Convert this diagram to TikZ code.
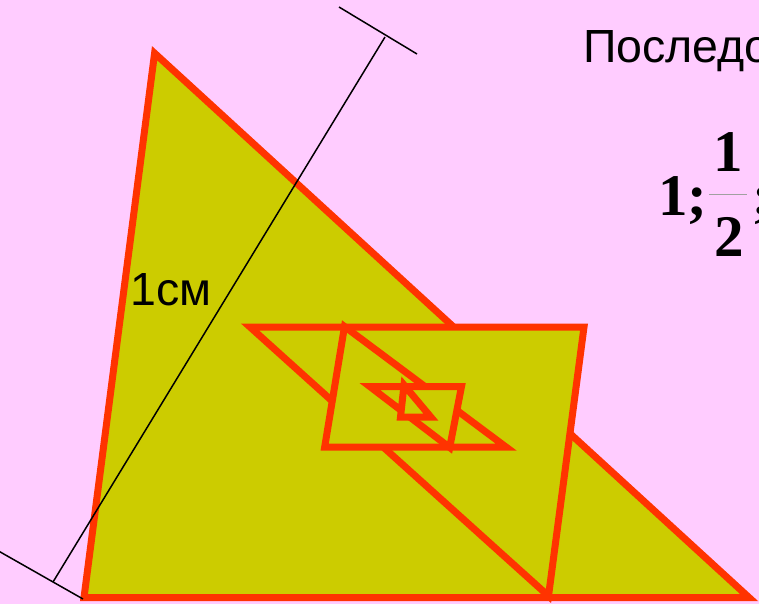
\documentclass[tikz,border=0pt]{standalone}
\usepackage{fontspec}
\setmainfont{Liberation Sans}
\newfontfamily\timesf{Liberation Serif}
\definecolor{bgpink}{HTML}{FFCCFF}
\definecolor{triyellow}{HTML}{CCCC00}
\definecolor{trired}{HTML}{FF3300}
\definecolor{bargray}{HTML}{A0A0A0}
\begin{document}
\begin{tikzpicture}[x=1pt,y=-1pt,
  tri/.style={fill=triyellow,draw=trired,line width=7pt,line join=miter},
  dimline/.style={draw=black,line width=1.5pt},
  lbl/.style={inner sep=0pt,anchor=base west,font=\fontsize{46.5}{50}\selectfont},
  fracnum/.style={inner sep=0pt,anchor=base west,font=\timesf\bfseries\fontsize{59}{60}\selectfont}]
\useasboundingbox (0,0) rectangle (759,604);
\fill[bgpink] (0,0) rectangle (759,604);
\clip (0,0) rectangle (759,604);
% vertices
\coordinate (A1) at (154.6,53.2);
\coordinate (B1) at (84,597.5);
\coordinate (C1) at (749,597.5);
\coordinate (A2) at (548.5,596);
\coordinate (B2) at (584,327);
\coordinate (C2) at (250,327);
\coordinate (A3) at (344.5,326.5);
\coordinate (B3) at (324.7,447);
\coordinate (C3) at (506,447);
\coordinate (A4) at (449.7,447.5);
\coordinate (B4) at (461.5,386.5);
\coordinate (C4) at (369.8,386.5);
\coordinate (A5) at (404,385);
\coordinate (B5) at (400.5,417);
\coordinate (C5) at (430.8,417);
% triangles
\draw[tri] (A1) -- (B1) -- (C1) -- cycle;
\draw[tri] (A2) -- (B2) -- (C2) -- cycle;
\draw[tri] (A3) -- (B3) -- (C3) -- cycle;
\draw[tri] (A4) -- (B4) -- (C4) -- cycle;
\draw[tri] (A5) -- (B5) -- (C5) -- cycle;
% dimension line
\coordinate (dimT) at (385,37);
\coordinate (dimB) at (53,582);
\coordinate (tT1) at (339,7);
\coordinate (tT2) at (417,54);
\coordinate (tB1) at (-5,549);
\coordinate (tB2) at (83,599);
\draw[dimline] (dimT) -- (dimB);
\draw[dimline] (tT1) -- (tT2);
\draw[dimline] (tB1) -- (tB2);
% texts
\node[lbl] (cm) at (130,305) {1см};
\node[lbl] (title) at (583,63) {Последо};
\node[fracnum] (one) at (657.9,215) {1;};
\node[fracnum] (num) at (713.5,171.7) {1};
\node[fracnum] (den) at (714,256.7) {2};
\node[fracnum] (semi) at (752,215) {;};
\coordinate (barL) at (709,194);
\coordinate (barR) at (746.7,194);
\draw[bargray,line width=1pt] (barL) -- (barR);
\end{tikzpicture}
\end{document}
